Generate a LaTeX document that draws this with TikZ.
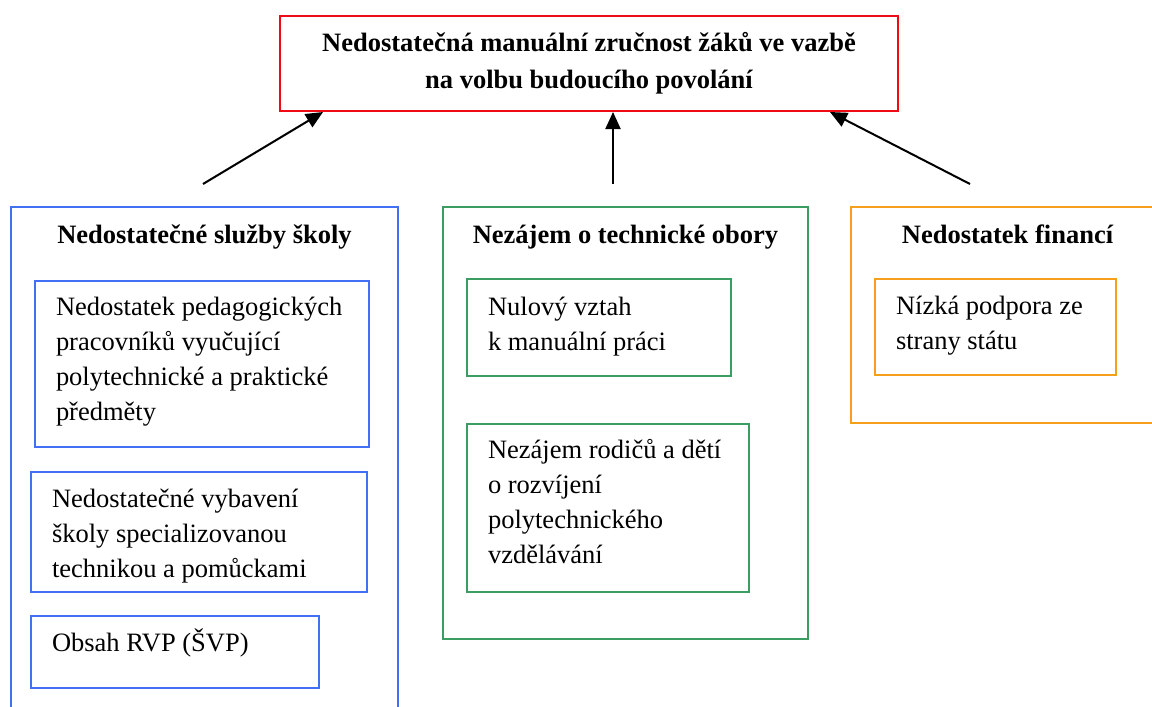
\documentclass[tikz,border=0pt]{standalone}
\usepackage{fontspec}
\setmainfont{Liberation Serif}
\usetikzlibrary{arrows.meta}
\definecolor{cblue}{RGB}{66,112,245}
\definecolor{cgreen}{RGB}{58,158,98}
\definecolor{corange}{RGB}{247,158,28}
\definecolor{cred}{RGB}{240,10,20}
\begin{document}
\begin{tikzpicture}[x=1pt,y=-1pt,
  txt/.style={font=\fontsize{26.5}{35}\selectfont, inner sep=0pt, outer sep=0pt, anchor=base west},
  head/.style={font=\fontsize{26.5}{35}\selectfont\bfseries, inner sep=0pt, anchor=base},
  box/.style={draw, line width=2pt, inner sep=0pt, outer sep=0pt, anchor=north west},
  arr/.style={line width=2pt, -{Triangle[length=17pt,width=15pt]}}]
\clip (0,0) rectangle (1152,707);
\fill[white] (0,0) rectangle (1152,707);

% title
\node[box, draw=cred, minimum width=618pt, minimum height=95pt, align=center,
      font=\fontsize{26.5}{37}\selectfont\bfseries] (title) at (280,16)
  {Nedostatečná manuální zručnost žáků ve vazbě\\na volbu budoucího povolání};

% arrows
\coordinate (sA) at (203,184);
\coordinate (sB) at (613,184);
\coordinate (sC) at (970,184);
\coordinate (tA) at (323,112);
\coordinate (tB) at (613,112);
\coordinate (tC) at (830,112);
\draw[arr] (sA) -- (tA);
\draw[arr] (sB) -- (tB);
\draw[arr] (sC) -- (tC);

% blue column
\node[box, draw=cblue, minimum width=387pt, minimum height=600pt] (bout) at (11,207) {};
\node[head] (bhead) at (204.5,243) {Nedostatečné služby školy};
\node[box, draw=cblue, minimum width=334pt, minimum height=166pt] (b1) at (35,281) {};
\node[txt] (tb1) at (56,315) {\parbox[t]{330pt}{\raggedright Nedostatek pedagogických\\pracovníků vyučující\\polytechnické a praktické\\předměty}};
\node[box, draw=cblue, minimum width=336pt, minimum height=120pt] (b2) at (31,472) {};
\node[txt] (tb2) at (52,507) {\parbox[t]{330pt}{\raggedright Nedostatečné vybavení\\školy specializovanou\\technikou a pomůckami}};
\node[box, draw=cblue, minimum width=288pt, minimum height=72pt] (b3) at (31,616) {};
\node[txt] (tb3) at (52,651) {Obsah RVP (ŠVP)};

% green column
\node[box, draw=cgreen, minimum width=365pt, minimum height=432pt] (gout) at (443,207) {};
\node[head] (ghead) at (625.5,243) {Nezájem o technické obory};
\node[box, draw=cgreen, minimum width=264pt, minimum height=97pt] (g1) at (467,279) {};
\node[txt] (tg1) at (488,315) {\parbox[t]{300pt}{\raggedright Nulový vztah\\k manuální práci}};
\node[box, draw=cgreen, minimum width=282pt, minimum height=168pt] (g2) at (467,424) {};
\node[txt] (tg2) at (488,458) {\parbox[t]{300pt}{\raggedright Nezájem rodičů a dětí\\o rozvíjení\\polytechnického\\vzdělávání}};

% orange column
\node[box, draw=corange, minimum width=313pt, minimum height=216pt] (oout) at (851,207) {};
\node[head] (ohead) at (1007.5,243) {Nedostatek financí};
\node[box, draw=corange, minimum width=241pt, minimum height=96pt] (o1) at (875,279) {};
\node[txt] (to1) at (896,314) {\parbox[t]{300pt}{\raggedright Nízká podpora ze\\strany státu}};
\end{tikzpicture}
\end{document}
